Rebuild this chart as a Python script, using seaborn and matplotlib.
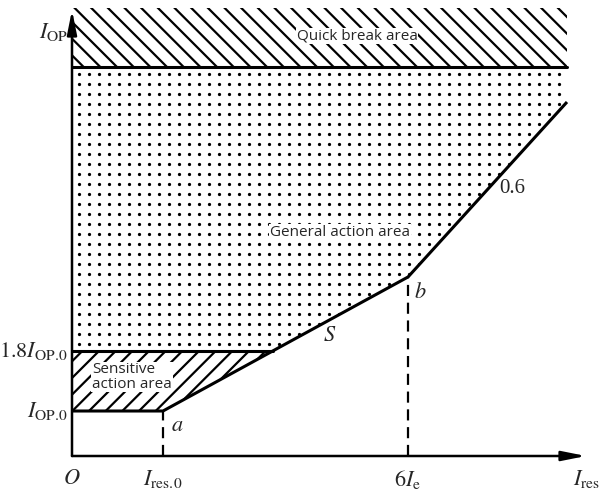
import seaborn as sns
import matplotlib.pyplot as plt
import numpy as np
from matplotlib.patches import Polygon

# restraint characteristic (diagram units, O at origin)
curve_x = [0, 9.1, 33.6, 49.5]        # O, I_res.0 (a), 6I_e (b), end
curve_y = [4.5, 4.5, 17.9, 35.4]      # I_OP.0 ... slope S ... slope 0.6
sens_top = 10.5                       # 1.8 I_OP.0
quick_lo, quick_hi = 38.9, 44.8       # quick break band
x_end = 49.5
x_tick_pos = [0, 9.1, 33.6, 51.5]
x_tick_lab = [r'$O$', r'$I_{\mathrm{res}.\!0}$', r'$6I_{\mathrm{e}}$', r'$I_{\mathrm{res}}$']
y_tick_pos = [4.5, 10.5, 42.4]
y_tick_lab = [r'$I_{\mathrm{OP}.\!0}$', r'$1.8I_{\mathrm{OP}.\!0}$', r'$I_{\mathrm{OP}}$']

sns.set_style("white")
plt.rcParams['mathtext.fontset'] = 'stix'
plt.rcParams['hatch.linewidth'] = 1.6

fig = plt.figure(figsize=(6.01, 4.95), dpi=100)
ax = fig.add_axes([72/601, 39/495, 520/601, 451/495])
ax.set_xlim(0, 52)
ax.set_ylim(0, 45.1)
ax.axis('off')

# intersection of slope S with the 1.8 I_OP.0 line
k = (curve_y[2] - curve_y[1]) / (curve_x[2] - curve_x[1])
x_sens = curve_x[1] + (sens_top - curve_y[1]) / k

# quick break area
ax.fill_between([0, x_end], quick_lo, quick_hi, facecolor='none',
                edgecolor='black', hatch='\\\\', linewidth=0)

# sensitive action area
sens = Polygon([(0, curve_y[0]), (curve_x[1], curve_y[1]), (x_sens, sens_top),
                (0, sens_top)], closed=True, facecolor='none', edgecolor='black',
               hatch='//', linewidth=0)
ax.add_patch(sens)

# general action area (dotted)
gen = Polygon([(0, sens_top), (x_sens, sens_top), (curve_x[2], curve_y[2]),
               (curve_x[3], curve_y[3]), (x_end, quick_lo), (0, quick_lo)],
              closed=True, facecolor='none', edgecolor='none')
ax.add_patch(gen)
gx, gy = np.meshgrid(np.arange(0.7, x_end + 0.5, 1.0), np.arange(quick_lo - 0.7, sens_top, -1.0))
dots = ax.scatter(gx.ravel(), gy.ravel(), s=5.5, color='black', linewidths=0)
dots.set_clip_path(gen)

# boundary lines
lw = 2.2
ax.plot(curve_x, curve_y, color='black', lw=lw, solid_capstyle='butt')
ax.plot([0, x_sens], [sens_top, sens_top], color='black', lw=lw)
ax.plot([0, x_end], [quick_lo, quick_lo], color='black', lw=lw)
ax.plot([curve_x[1], curve_x[1]], [0, curve_y[1]], color='black', lw=1.6, ls=(0, (5, 3)))
ax.plot([curve_x[2], curve_x[2]], [0, curve_y[2]], color='black', lw=1.6, ls=(0, (5, 3)))

# axes with arrows
arrow = dict(arrowstyle='-|>,head_length=0.9,head_width=0.18', lw=1.8, color='black',
             shrinkA=0, shrinkB=0, mutation_scale=16)
ax.annotate('', xy=(51.4, 0), xytext=(0, 0), arrowprops=arrow, annotation_clip=False)
ax.annotate('', xy=(0, 44.6), xytext=(0, 0), arrowprops=arrow, annotation_clip=False)

# tick labels
for xp, lab in zip(x_tick_pos, x_tick_lab):
    ax.text(xp, -1.2, lab, ha='center', va='top', fontsize=16, clip_on=False)
for yp, lab in zip(y_tick_pos, y_tick_lab):
    ax.text(-0.4, yp, lab, ha='right', va='center', fontsize=16, clip_on=False)

# point / slope annotations
ax.text(curve_x[1] + 0.8, curve_y[1] - 1.4, r'$a$', fontsize=16, ha='left', va='center')
ax.text(curve_x[2] + 0.6, curve_y[2] - 1.5, r'$b$', fontsize=16, ha='left', va='center')
ax.text(25.8, 12.1, r'$S$', fontsize=16, ha='center', va='center')
ax.text(44.0, 26.8, '0.6', fontsize=15, ha='center', va='center', family='Liberation Serif')

# area labels
box = dict(facecolor='white', edgecolor='none', pad=0.5)
ax.text(28.5, 42.0, 'Quick break area', fontsize=11, family='Open Sans',
        ha='center', va='center', bbox=box)
ax.text(26.8, 22.4, 'General action area', fontsize=11, family='Open Sans',
        ha='center', va='center', bbox=box)
ax.text(2.0, 7.9, 'Sensitive\naction area', fontsize=11, family='Open Sans',
        ha='left', va='center', linespacing=0.95, bbox=box)

fig.savefig('out.png', dpi=100)
